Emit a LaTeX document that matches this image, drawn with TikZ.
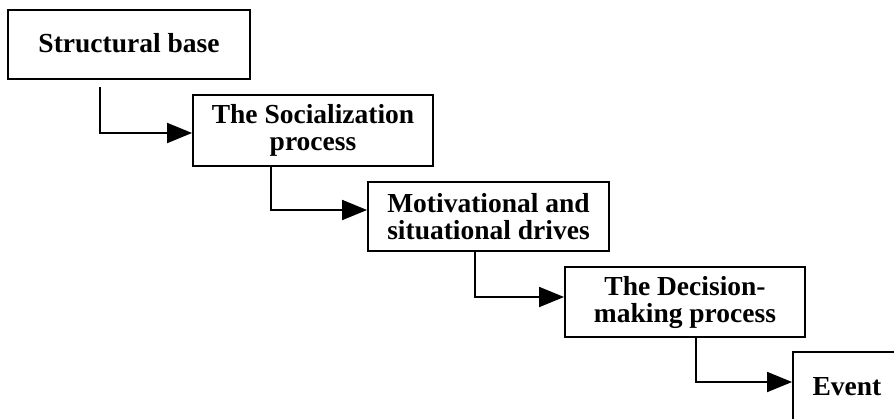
\documentclass[tikz,border=0pt]{standalone}
\usepackage{fontspec}
\setmainfont{Liberation Serif}
\usetikzlibrary{arrows.meta}
\begin{document}
\begin{tikzpicture}[x=1pt,y=-1pt,
  stagebox/.style={draw=black, line width=1.9pt, fill=white, inner sep=0pt, align=center,
    font=\bfseries\fontsize{27.5}{27}\selectfont},
  flowarrow/.style={line width=1.9pt, -{Triangle[length=25pt,width=20pt]}}]
\useasboundingbox (0,0) rectangle (894,418);
\clip (0,0) rectangle (894,418);
\fill[white] (0,0) rectangle (894,418);
\node[stagebox, minimum width=242pt, minimum height=69pt] (b1) at (129,44.5) {\raisebox{4pt}{Structural base}};
\node[stagebox, minimum width=240pt, minimum height=71pt] (b2) at (313,130.5) {The Socialization\\process};
\node[stagebox, minimum width=241pt, minimum height=69pt] (b3) at (488.5,216.5) {Motivational and\\situational drives};
\node[stagebox, minimum width=240pt, minimum height=70pt] (b4) at (685,302) {The Decision-\\making process};
\node[stagebox, minimum width=108pt, minimum height=70pt] (b5) at (847,387) {Event};
\coordinate (s1) at (100,87);
\draw[flowarrow] (s1) |- ([yshift=-2.5pt]b2.west);
\draw[flowarrow] ([xshift=-42pt]b2.south) |- ([yshift=6.5pt]b3.west);
\draw[flowarrow] ([xshift=-13.5pt]b3.south) |- ([yshift=5pt]b4.west);
\draw[flowarrow] ([xshift=11pt]b4.south) |- ([yshift=5pt]b5.west);
\end{tikzpicture}
\end{document}
